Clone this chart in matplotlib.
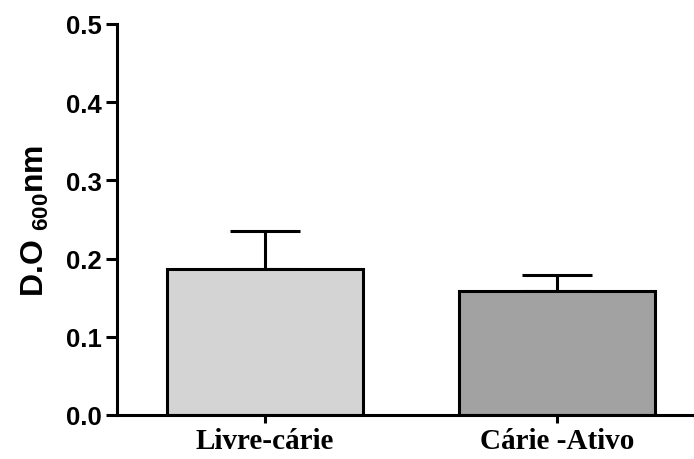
import matplotlib
matplotlib.use("Agg")
import matplotlib.pyplot as plt

categories = ["Livre-cárie", "Cárie -Ativo"]
means = [0.187, 0.159]
errors = [0.048, 0.020]
colors = ["#d4d4d4", "#a2a2a2"]

plt.rcParams['mathtext.fontset'] = 'custom'
plt.rcParams['mathtext.bf'] = 'Liberation Sans:bold'
plt.rcParams['mathtext.rm'] = 'Liberation Sans:bold'

fig = plt.figure(figsize=(6.94, 4.6), dpi=100)
ax = fig.add_axes([117/694, 1-416/460, 1-117/694, (416-25)/460])

x = list(range(len(categories)))
ax.bar(x, means, width=0.67, color=colors, edgecolor="black", linewidth=2.2, zorder=2)
ax.errorbar(x, means, yerr=[[0, 0], errors], fmt="none", ecolor="black",
            elinewidth=2.2, capsize=25, capthick=2.2, zorder=1)

ax.set_xlim(-0.507, 1.47)
ax.set_ylim(0, 0.5)
ax.set_yticks([0.0, 0.1, 0.2, 0.3, 0.4, 0.5])
ax.set_yticklabels(["0.0", "0.1", "0.2", "0.3", "0.4", "0.5"],
                   family="Liberation Sans", fontweight="bold", fontsize=18.5)
ax.set_xticks(x)
ax.set_xticklabels(categories, family="Liberation Serif", fontweight="bold", fontsize=21)

for s in ["top", "right"]:
    ax.spines[s].set_visible(False)
for s in ["left", "bottom"]:
    ax.spines[s].set_linewidth(2.2)
ax.tick_params(axis="y", length=8, width=2.2, pad=3)
ax.tick_params(axis="x", length=6, width=2.2, pad=3)

ax.set_ylabel(r"D.O $_{\mathbf{600}}$nm", family="Liberation Sans",
              fontweight="bold", fontsize=23, labelpad=11)

fig.savefig("out.png", dpi=100)
